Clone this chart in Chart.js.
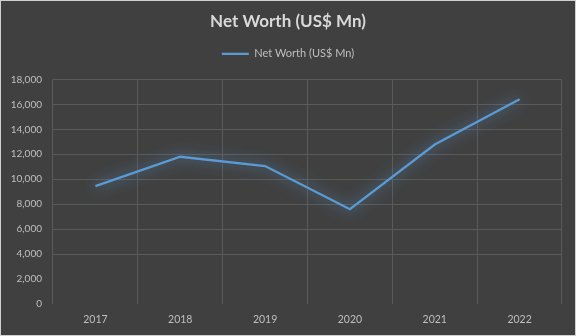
<!DOCTYPE html>
<html>
<head>
<meta charset="utf-8">
<script src="https://cdn.jsdelivr.net/npm/chart.js@4/dist/chart.umd.min.js"></script>
<style>
  html, body { margin: 0; padding: 0; background: #404040; }
  #wrap { width: 576px; height: 336px; }
</style>
</head>
<body>
<div id="wrap"><canvas id="chart" width="576" height="336"></canvas></div>
<script>
// chart data
const years = ['2017', '2018', '2019', '2020', '2021', '2022'];
const netWorth = [9450, 11800, 11050, 7600, 12780, 16400];
const yTicks = [0, 2000, 4000, 6000, 8000, 10000, 12000, 14000, 16000, 18000];

const lineBlue = '#5b9bd5';
const gridGray = '#5a5a5a';
const textGray = '#bfbfbf';

// dark background + thin frame, like the Excel chart area
const backdrop = {
    id: 'backdrop',
    beforeDraw: (chart) => {
        const ctx = chart.ctx;
        ctx.save();
        ctx.fillStyle = '#404040';
        ctx.fillRect(0, 0, chart.width, chart.height);
        ctx.strokeStyle = '#d0d0d0';
        ctx.lineWidth = 1;
        ctx.strokeRect(0.5, 0.5, chart.width - 1, chart.height - 1);
        ctx.restore();
    }
};

// soft glow around the line
const glow = {
    id: 'glow',
    beforeDatasetDraw: (chart) => {
        chart.ctx.save();
        chart.ctx.shadowColor = 'rgba(91,155,213,1)';
        chart.ctx.shadowBlur = 14;
    },
    afterDatasetDraw: (chart) => {
        chart.ctx.restore();
    }
};

// empty axes only used as spacers (gap under legend, margin on the right)
const spacer = (pos, size) => ({
    type: 'linear',
    position: pos,
    display: true,
    grid: { display: false, drawTicks: false },
    border: { display: false },
    ticks: { display: false },
    afterFit: (scale) => {
        if (pos === 'top') scale.height = size; else scale.width = size;
    }
});

new Chart(document.getElementById('chart').getContext('2d'), {
    type: 'line',
    data: {
        labels: years,
        datasets: [{
            label: 'Net Worth (US$ Mn)',
            data: netWorth,
            xAxisID: 'x',
            yAxisID: 'y',
            borderColor: lineBlue,
            backgroundColor: lineBlue,
            borderWidth: 2.25,
            pointRadius: 0,
            tension: 0,
            fill: false
        }]
    },
    options: {
        responsive: false,
        animation: false,
        devicePixelRatio: 1,
        layout: { padding: 0 },
        plugins: {
            title: {
                display: true,
                text: 'Net Worth (US$ Mn)',
                color: '#d9d9d9',
                font: { family: 'Lato', size: 17, weight: 'bold' },
                padding: { top: 11, bottom: 1 }
            },
            legend: {
                display: true,
                labels: {
                    color: textGray,
                    font: { family: 'Lato', size: 11 },
                    usePointStyle: true,
                    pointStyle: 'line',
                    pointStyleWidth: 27,
                    boxHeight: 11,
                    padding: 16
                }
            },
            tooltip: { enabled: false }
        },
        scales: {
            x: {
                offset: true,
                grid: { offset: true, color: gridGray, drawTicks: false },
                border: { display: false },
                ticks: {
                    color: textGray,
                    font: { family: 'Lato', size: 10.5 },
                    padding: 9,
                    maxRotation: 0
                },
                afterFit: (scale) => { scale.height = 32; }
            },
            y: {
                min: 0,
                max: 18000,
                afterBuildTicks: (scale) => {
                    scale.ticks = yTicks.map(v => ({ value: v }));
                },
                grid: {
                    // the two lowest lines don't show in the original
                    color: (c) => c.index < 2 ? 'rgba(0,0,0,0)' : gridGray,
                    drawTicks: false
                },
                border: { display: false },
                ticks: {
                    color: textGray,
                    font: { family: 'Lato', size: 10 },
                    padding: 11,
                    callback: (v) => v.toLocaleString('en-US')
                },
                afterFit: (scale) => { scale.width = 53; }
            },
            gapTop: spacer('top', 10),
            gapRight: spacer('right', 14)
        }
    },
    plugins: [backdrop, glow]
});
</script>
</body>
</html>
